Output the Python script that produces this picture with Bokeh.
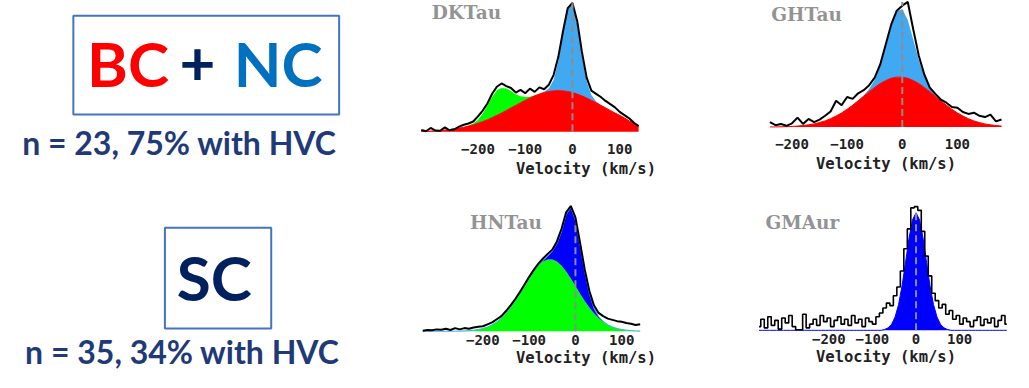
import numpy as np
from bokeh.plotting import figure
from bokeh.layouts import row, column
from bokeh.models import Range1d, Label, BoxAnnotation, FixedTicker
from bokeh.embed import file_html
from bokeh.resources import INLINE

# ---------------- data ----------------
tick_values = [-200, -100, 0, 100]
tick_labels = ["\u2212200", "\u2212100", "0", "100"]
axis_title = "Velocity (km/s)"
star_names = ["DKTau", "GHTau", "HNTau", "GMAur"]

group_titles = ["BC", "+", "NC", "SC"]
group_stats = ["n = 23, 75% with HVC", "n = 35, 34% with HVC"]

# DKTau: velocity grid (km/s), observed flux, broad (BC), high-velocity (HVC), narrow (NC)
dk_v = list(range(-320, 141, 10))
dk_flux = [1.5, 0.5, 3.0, 1.0, 0.8, 3.5, 1.2, 2.0, 4.0,
           5.5, 6.5, 8.0, 12.0, 16.5, 22.0, 29.5, 35.0, 37.5,
           35.5, 34.0, 30.5, 32.5, 30.0, 33.5, 31.0, 34.5, 33.0,
           36.5, 44.0, 58.0, 78.0, 96.0, 100.0, 86.0, 62.0, 42.0,
           32.0, 29.5, 27.0, 24.0, 21.5, 19.0, 15.5, 13.0, 10.5, 7.0, 4.5]
dk_bc = [0.3, 0.5, 0.6, 0.8, 1.1, 1.4, 1.8, 2.3, 2.9,
         3.6, 4.5, 5.5, 6.7, 8.0, 9.4, 11.1, 12.8, 14.6,
         16.6, 18.6, 20.6, 22.6, 24.5, 26.3, 27.9, 29.3, 30.5,
         31.3, 31.8, 32.0, 31.8, 31.3, 30.5, 29.3, 27.9, 26.3,
         24.5, 22.6, 20.6, 18.6, 16.6, 14.6, 12.8, 10.8, 8.5, 6.5, 4.5]
dk_hvc = ([0.0] * 10 +
          [0.3, 1.0, 2.5, 6.0, 11.0, 16.0, 19.5, 19.5, 17.0, 13.0, 8.5, 5.0, 2.5, 1.0, 0.3] +
          [0.0] * 22)
dk_nc = ([0.0] * 26 +
         [0.5, 2.3, 8.5, 22.7, 44.8, 64.9, 69.0, 53.9, 31.0, 13.0, 4.0, 0.9, 0.1] +
         [0.0] * 8)

# GHTau
gh_v = list(range(-240, 181, 10))
gh_flux = [4.0, 1.5, 2.5, 1.0, 3.0, 7.5, 2.5, 6.5, 4.0, 6.0,
           9.0, 12.5, 21.0, 17.5, 24.0, 22.5, 27.0, 29.5, 33.5, 39.5,
           50.0, 66.0, 82.0, 93.0, 97.0, 100.0, 78.0, 57.0, 42.0, 31.5,
           26.5, 22.0, 19.5, 16.0, 15.5, 12.0, 10.5, 11.5, 9.0, 8.0,
           10.0, 4.5, 6.0]
gh_bc = [0.1, 0.1, 0.2, 0.3, 0.5, 0.8, 1.2, 1.8, 2.5, 3.6,
         4.9, 6.7, 8.8, 11.3, 14.2, 17.5, 21.0, 24.6, 28.3, 31.7,
         34.8, 37.2, 39.0, 39.9, 39.9, 39.0, 37.2, 34.8, 31.7, 28.3,
         24.6, 21.0, 17.5, 14.2, 11.3, 8.8, 6.7, 4.9, 3.6, 2.5,
         1.8, 1.2, 0.8]
gh_nc = ([0.0] * 17 +
         [0.7, 2.2, 6.2, 14.2, 26.8, 41.3, 52.4, 54.5, 46.5, 32.6, 18.8, 8.9, 3.4, 1.1, 0.3] +
         [0.0] * 11)

# HNTau
hn_v = list(range(-330, 141, 10))
hn_flux = [0.5, 1.0, 0.8, 1.5, 1.2, 2.0, 1.0, 2.5, 1.5, 2.5,
           2.0, 3.0, 3.5, 4.0, 5.5, 7.0, 9.5, 12.0, 16.0, 20.5,
           25.5, 31.0, 37.0, 43.0, 48.5, 53.5, 57.5, 61.0, 64.5, 71.0,
           81.0, 94.0, 99.0, 90.0, 70.0, 49.0, 32.0, 20.5, 14.5, 12.0,
           10.0, 9.0, 8.0, 7.5, 6.5, 6.0, 5.0, 5.5]
hn_hvc = [0.0, 0.0, 0.0, 0.0, 0.0, 0.0, 0.0, 0.1, 0.2, 0.3,
          0.5, 0.9, 1.4, 2.2, 3.4, 5.1, 7.5, 10.4, 14.2, 18.7,
          24.0, 29.7, 35.8, 41.7, 47.2, 51.8, 55.1, 56.8, 56.8, 55.1,
          51.8, 47.2, 41.7, 35.8, 29.7, 24.0, 18.7, 14.2, 10.4, 7.5,
          5.1, 3.4, 2.2, 1.4, 0.9, 0.5, 0.3, 0.2]
hn_nc = ([0.0] * 25 +
         [0.2, 0.8, 2.5, 6.5, 14.0, 27.0, 45.0, 56.0, 52.0, 38.0, 23.0, 11.0, 4.0, 1.2, 0.3] +
         [0.0] * 8)

# GMAur
gm_v = list(range(-360, 209, 8))
gm_flux = [3, 9, 2, 11, 4, 8, 1, 10, 6, 12,
           3, 0.5, 0.5, 13, 2, 5, 9, 4, 12, 7,
           10, 3, 8, 11, 5, 9, 4, 12, 6, 9,
           3, 10, 7, 5, 11, 14, 18, 22, 20, 28,
           35, 48, 66, 82, 99, 100, 97, 80, 60, 44,
           30, 24, 18, 21, 13, 16, 9, 12, 5, 10,
           7, 3, 8, 11, 4, 9, 6, 10, 3, 8,
           12, 5]
gm_nc = ([0.0] * 36 +
         [0.7, 2.0, 4.9, 10.8, 20.9, 36.1, 55.1, 74.6, 89.4, 95.0,
          89.4, 74.6, 55.1, 36.1, 20.9, 10.8, 4.9, 2.0, 0.7] +
         [0.0] * 17)

# extent of the dashed v = 0 marker in each panel (flux units)
dash_extent = {"DKTau": (-8, 100), "GHTau": (0, 100), "HNTau": (0, 87), "GMAur": (0, 95)}

# ---------------- layout / styles ----------------
SX = 1013 / 1029
SY = 372 / 388
LEFT_W, COLA_W, COLB_W = 413, 345, 255
TOP_H, BOT_H = 185, 187

RED = "#ff0000"
GREEN = "#00ff00"
LIGHTBLUE = "#41a9f2"
BLUE = "#0000ff"
NAVY = "#002060"
STATNAVY = "#1f3a78"
NCBLUE = "#0070c0"
BOXLINE = "#4472c4"

# panel geometry in reference pixels: v=0 column, px per km/s, baseline row, peak row,
# frame-bottom row, title anchor
geom = {
    "DKTau": dict(x0=LEFT_W, y0=0, w=COLA_W, h=TOP_H, v0=581, k=0.48, base=137, peak=2.5,
                  fb=140, std=9, lstd=3, title=(438, 13)),
    "GHTau": dict(x0=LEFT_W + COLA_W, y0=0, w=COLB_W, h=TOP_H, v0=916, k=0.56, base=132, peak=1.5,
                  fb=135, std=9, lstd=3, title=(783, 15)),
    "HNTau": dict(x0=LEFT_W, y0=TOP_H, w=COLA_W, h=BOT_H, v0=584, k=0.47, base=345, peak=213,
                  fb=346, std=2, lstd=1, title=(477, 232)),
    "GMAur": dict(x0=LEFT_W + COLA_W, y0=TOP_H, w=COLB_W, h=BOT_H, v0=930, k=0.443, base=344, peak=215,
                  fb=345, std=2, lstd=1, title=(777, 232)),
}


def spectrum_panel(name):
    g = geom[name]
    border = g["y0"] + g["h"] - int(round(g["fb"] * SY))
    frame_bot_ref = (g["y0"] + g["h"] - border) / SY
    frame_top_ref = g["y0"] / SY
    unit = lambda r: 100.0 * (g["base"] - r) / (g["base"] - g["peak"])
    xs = (g["x0"] / SX - g["v0"]) / g["k"]
    xe = ((g["x0"] + g["w"]) / SX - g["v0"]) / g["k"]
    p = figure(width=g["w"], height=g["h"],
               x_range=Range1d(xs, xe), y_range=Range1d(unit(frame_bot_ref), unit(frame_top_ref)),
               output_backend="svg", toolbar_location=None, tools="",
               y_axis_location=None,
               min_border_left=0, min_border_right=0, min_border_top=0,
               min_border_bottom=border)
    p.outline_line_color = None
    p.grid.visible = False
    ax = p.xaxis[0]
    ax.ticker = FixedTicker(ticks=tick_values)
    ax.major_label_overrides = {float(k): t for k, t in zip(tick_values, tick_labels)}
    ax.axis_line_color = None
    ax.major_tick_line_color = None
    ax.minor_tick_line_color = None
    ax.major_tick_out = 0
    ax.major_tick_in = 0
    ax.minor_tick_out = 0
    ax.minor_tick_in = 0
    ax.major_label_standoff = g["std"]
    ax.major_label_text_font = "DejaVu Sans Mono"
    ax.major_label_text_font_size = "14px"
    ax.major_label_text_font_style = "bold"
    ax.major_label_text_color = "#222222"
    ax.axis_label = axis_title
    ax.axis_label_text_font = "DejaVu Sans Mono"
    ax.axis_label_text_font_size = "15.5px"
    ax.axis_label_text_font_style = "bold"
    ax.axis_label_text_color = "#222222"
    ax.axis_label_standoff = g["lstd"]
    tx, ty = g["title"]
    p.add_layout(Label(x=(tx - g["v0"]) / g["k"], y=unit(ty), text=name,
                       text_font="DejaVu Serif", text_font_style="bold",
                       text_font_size="18.5px", text_color="#939393",
                       text_baseline="middle", text_align="left"))
    return p


def dash(p, name):
    lo, hi = dash_extent[name]
    p.segment(x0=[0], y0=[lo], x1=[0], y1=[hi], line_color="#8c8c8c",
              line_width=2, line_dash="7 4")


# DKTau
dk = spectrum_panel("DKTau")
dk_bc_a = np.array(dk_bc)
dk.varea(x=dk_v, y1=0, y2=dk_bc_a, fill_color=RED)
dk.varea(x=dk_v, y1=dk_bc_a, y2=dk_bc_a + np.array(dk_hvc), fill_color=GREEN)
dk.varea(x=dk_v, y1=dk_bc_a, y2=dk_bc_a + np.array(dk_nc), fill_color=LIGHTBLUE)
dk.line(x=dk_v, y=dk_bc_a, line_color=RED, line_width=1)
dk.line(x=dk_v, y=dk_flux, line_color="black", line_width=2)
dash(dk, "DKTau")

# GHTau
gh = spectrum_panel("GHTau")
gh_bc_a = np.array(gh_bc)
gh.varea(x=gh_v, y1=0, y2=gh_bc_a, fill_color=RED)
gh.varea(x=gh_v, y1=gh_bc_a, y2=gh_bc_a + np.array(gh_nc), fill_color=LIGHTBLUE)
gh.line(x=gh_v, y=gh_bc_a, line_color=RED, line_width=1)
gh.line(x=gh_v, y=gh_flux, line_color="black", line_width=2)
dash(gh, "GHTau")

# HNTau
hn = spectrum_panel("HNTau")
hn_hvc_a = np.array(hn_hvc)
hn.varea(x=hn_v, y1=0, y2=hn_hvc_a, fill_color=GREEN)
hn.varea(x=hn_v, y1=hn_hvc_a, y2=hn_hvc_a + np.array(hn_nc), fill_color=BLUE)
hn.line(x=hn_v, y=hn_hvc_a + np.array(hn_nc), line_color=LIGHTBLUE, line_width=1)
hn.line(x=hn_v, y=hn_flux, line_color="black", line_width=2)
dash(hn, "HNTau")

# GMAur
gm = spectrum_panel("GMAur")
gm.varea(x=gm_v, y1=0, y2=gm_nc, fill_color=BLUE)
gm.line(x=gm_v, y=gm_nc, line_color=BLUE, line_width=1)
gm.step(x=gm_v, y=gm_flux, mode="center", line_color="black", line_width=1.6)
dash(gm, "GMAur")

# ---------------- left text panel (reference pixel positions, scaled) ----------------
left = figure(width=LEFT_W, height=TOP_H + BOT_H, x_range=Range1d(0, LEFT_W),
              y_range=Range1d(TOP_H + BOT_H, 0),
              output_backend="svg", toolbar_location=None, tools="",
              x_axis_location=None, y_axis_location=None,
              min_border_left=0, min_border_right=0, min_border_top=0, min_border_bottom=0)
left.outline_line_color = None
left.grid.visible = False

lx = lambda r: r * SX
ly = lambda r: r * SY

left.add_layout(BoxAnnotation(left=lx(74), right=lx(344), top=ly(16), bottom=ly(119),
                              fill_color=None, line_color=BOXLINE, line_alpha=1.0, line_width=2))
left.add_layout(BoxAnnotation(left=lx(167), right=lx(275), top=ly(237), bottom=ly(342),
                              fill_color=None, line_color=BOXLINE, line_alpha=1.0, line_width=2))

BIG_FS, STAT_FS = 62, 32
big = dict(text_font="Lato", text_font_style="bold", text_font_size=f"{BIG_FS}px",
           text_baseline="alphabetic", text_align="left")
stat = dict(text_font="Lato", text_font_style="bold", text_font_size=f"{STAT_FS}px",
            text_baseline="alphabetic", text_align="left", text_color=STATNAVY)
big_off = 24
stat_off = 11
left.add_layout(Label(x=lx(93) - 5, y=ly(90) - big_off, text=group_titles[0], text_color=RED, **big))
left.add_layout(Label(x=lx(186) - 4, y=ly(90) - big_off, text=group_titles[1], text_color=NAVY, **big))
left.add_layout(Label(x=lx(241) - 4, y=ly(90) - big_off, text=group_titles[2], text_color=NCBLUE, **big))
left.add_layout(Label(x=lx(183) - 4, y=ly(313) - big_off, text=group_titles[3], text_color=NAVY, **big))
left.add_layout(Label(x=lx(23) - 1, y=ly(160) - stat_off, text=group_stats[0], **stat))
left.add_layout(Label(x=lx(26) - 1, y=ly(378) - stat_off, text=group_stats[1], **stat))

layout = row(left, column(dk, hn), column(gh, gm))
open("out.html", "w").write(file_html(layout, INLINE))
